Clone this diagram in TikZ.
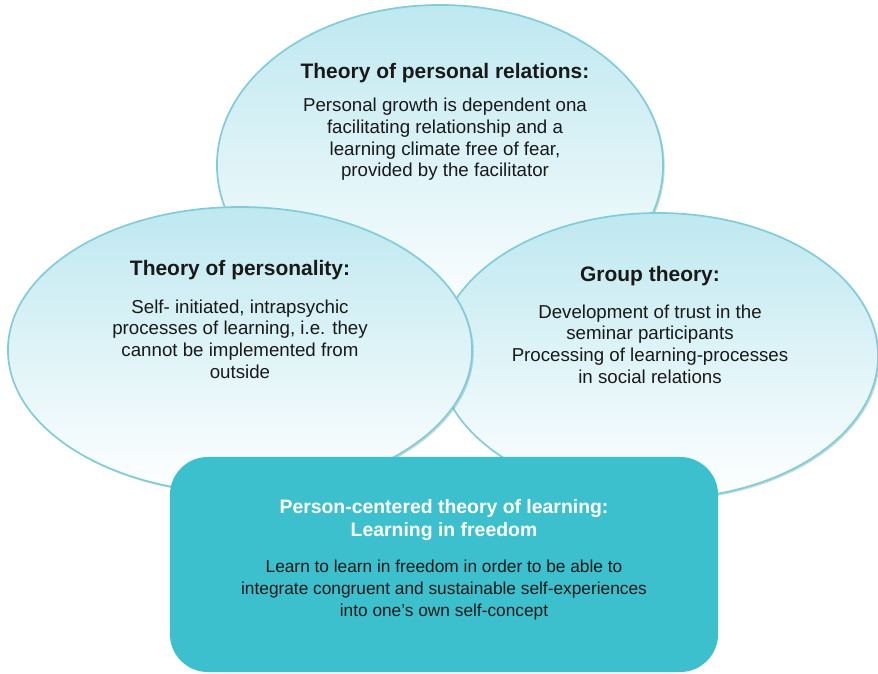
\documentclass[tikz,border=0pt]{standalone}
\usepackage{fontspec}
\setmainfont{Liberation Sans}
\usetikzlibrary{shapes.geometric,shadows}

\definecolor{bordo}{RGB}{128,205,217}
\definecolor{cielo}{RGB}{190,232,240}
\definecolor{turchese}{RGB}{61,192,205}
\definecolor{testo}{RGB}{25,25,25}

\begin{document}
\begin{tikzpicture}[x=0.025cm,y=-0.025cm]
\tikzstyle{bolla} = [ellipse, draw=bordo, line width=1.2pt, inner sep=0,
  top color=cielo, bottom color=white,
  drop shadow={shadow xshift=1.2pt, shadow yshift=-1.2pt, fill=bordo!70!black, opacity=0.35}]
\tikzstyle{titolo} = [align=center, text=testo, font=\fontsize{14.9}{17}\selectfont\bfseries]
\tikzstyle{corpo} = [align=center, text=testo, font=\fontsize{13.3}{15.4}\selectfont]

% Area del disegno
\useasboundingbox (0,0) rectangle (878,673);

% --- Ellissi (ordine: sopra, destra, sinistra) ------------------------
\node[bolla, minimum width=11.15cm, minimum height=8cm] (rel) at (440,165) {};
\node[bolla, minimum width=11cm, minimum height=7.15cm] (grp) at (658,356) {};
\node[bolla, minimum width=11.6cm, minimum height=7.15cm] (pers) at (240,350) {};

% Relazioni personali
\node[titolo] (rel-t) at (445,73) {Theory of personal relations:};
\node[corpo] (rel-c) at (445,139.5) {Personal growth is dependent ona\\
  facilitating relationship and a\\ learning climate free of fear,\\
  provided by the facilitator};

% Personalita'
\node[titolo] (pers-t) at (240,270) {Theory of personality:};
\node[corpo] (pers-c) at (240,339) {Self- initiated, intrapsychic\\
  processes of learning, i.e. they\\ cannot be implemented from\\ outside};

% Gruppo
\node[titolo] (grp-t) at (650,276) {Group theory:};
\node[corpo] (grp-c) at (650,344) {Development of trust in the\\
  seminar participants\\ Processing of learning-processes\\ in social relations};

% --- Riquadro centrale ------------------------------------------------
\node[draw=none, fill=turchese, rounded corners=0.95cm, minimum width=13.7cm,
  minimum height=5.375cm, inner sep=0] (box) at (444,564.5) {};
\node[align=center, text=white, font=\fontsize{13.8}{17}\selectfont\bfseries]
  (box-t) at (444,520) {Person-centered theory of learning:\\ Learning in freedom};
\node[align=center, text=testo, font=\fontsize{12.3}{15.6}\selectfont]
  (box-c) at (444,590) {Learn to learn in freedom in order to be able to\\
  integrate congruent and sustainable self-experiences\\ into one’s own self-concept};

\end{tikzpicture}
\end{document}
